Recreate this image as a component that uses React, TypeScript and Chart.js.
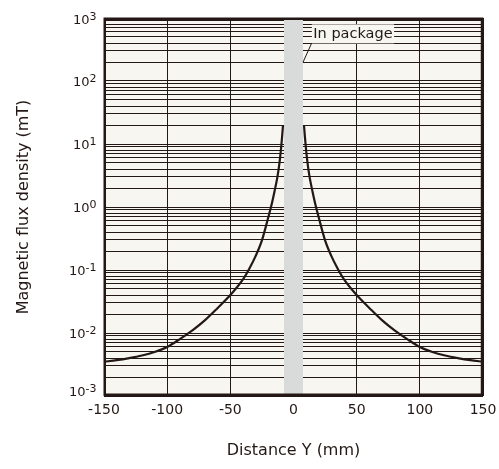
import React, { useEffect, useRef } from 'react';
import { Chart, registerables } from 'chart.js';

Chart.register(...registerables);

// ---- data ----
const distanceLeft = [-150, -140, -130, -120, -110, -100, -90, -80, -70, -60, -50, -40, -35, -30, -25, -20, -17, -15, -13, -12, -11, -10, -9, -8.3];
const fluxLeft = [0.0035, 0.0037, 0.004, 0.0044, 0.005, 0.006, 0.008, 0.011, 0.016, 0.025, 0.04, 0.071, 0.105, 0.166, 0.295, 0.68, 1.17, 1.78, 2.8, 3.7, 5.2, 7.9, 13.2, 20];
const distanceRight = [8.3, 9, 10, 11, 12, 13, 15, 17, 20, 25, 30, 35, 40, 50, 60, 70, 80, 90, 100, 110, 120, 130, 140, 150];
const fluxRight = [20, 13.2, 7.9, 5.2, 3.7, 2.8, 1.78, 1.17, 0.68, 0.295, 0.166, 0.105, 0.071, 0.04, 0.025, 0.016, 0.011, 0.008, 0.006, 0.005, 0.0044, 0.004, 0.0037, 0.0035];

const xTicks = [-150, -100, -50, 0, 50, 100, 150];
const xTickLabels = ['-150', '-100', '-50', '0', '50', '100', '150'];
const yDecades = [0.001, 0.01, 0.1, 1, 10, 100, 1000];
const yExponents = ['-3', '-2', '-1', '0', '1', '2', '3'];
const yMantissas = [1, 2, 3, 4, 5, 6, 7, 8, 9];
const packageBand = [-7.5, 7.5];
const annotationText = 'In package';
const xTitle = 'Distance Y (mm)';
const yTitle = 'Magnetic flux density (mT)';

const yGridValues: number[] = [];
yDecades.slice(0, -1).forEach((d) => yMantissas.forEach((m) => yGridValues.push(Number((m * d).toPrecision(6)))));
yGridValues.push(yDecades[yDecades.length - 1]);

const INK = '#231815';
const FONT = "'DejaVu Sans', Verdana, sans-serif";
const PLOT_BG = '#f7f6f0';
const BAND = '#d9dada';

const backgroundPlugin = {
  id: 'bgPlot',
  beforeDraw(chart: any) {
    const { ctx, chartArea: a } = chart;
    ctx.save();
    ctx.fillStyle = '#ffffff';
    ctx.fillRect(0, 0, chart.width, chart.height);
    ctx.fillStyle = PLOT_BG;
    ctx.fillRect(a.left, a.top, a.right - a.left, a.bottom - a.top);
    ctx.restore();
  },
};

const bandPlugin = {
  id: 'bandPkg',
  beforeDatasetsDraw(chart: any) {
    const { ctx, chartArea: a } = chart;
    const xs = chart.scales.x;
    const x0 = xs.getPixelForValue(packageBand[0]);
    const x1 = xs.getPixelForValue(packageBand[1]);
    ctx.save();
    ctx.fillStyle = BAND;
    ctx.fillRect(x0, a.top, x1 - x0, a.bottom - a.top);
    ctx.restore();
  },
};

const framePlugin = {
  id: 'frameAnno',
  afterDatasetsDraw(chart: any) {
    const { ctx, chartArea: a } = chart;
    const xs = chart.scales.x;
    const ys = chart.scales.y;
    ctx.save();
    // annotation label
    ctx.font = `14.5px ${FONT}`;
    const tw = ctx.measureText(annotationText).width;
    const lx = xs.getPixelForValue(14.5);
    const ly = ys.getPixelForValue(560);
    ctx.fillStyle = PLOT_BG;
    ctx.fillRect(lx, ly - 9.5, tw + 3, 19);
    ctx.fillStyle = INK;
    ctx.textAlign = 'left';
    ctx.textBaseline = 'middle';
    ctx.fillText(annotationText, lx + 1.5, ly);
    // leader line
    ctx.strokeStyle = INK;
    ctx.lineWidth = 1;
    ctx.beginPath();
    ctx.moveTo(xs.getPixelForValue(7.6), ys.getPixelForValue(200));
    ctx.lineTo(xs.getPixelForValue(14.3), ys.getPixelForValue(396));
    ctx.stroke();
    // frame
    ctx.lineWidth = 2.5;
    ctx.strokeRect(a.left + 0.75, a.top + 0.75, a.right - a.left - 1.75, a.bottom - a.top - 2);
    ctx.restore();
  },
};

const yLabelPlugin = {
  id: 'yLabels',
  afterDraw(chart: any) {
    const { ctx, chartArea: a } = chart;
    const ys = chart.scales.y;
    ctx.save();
    ctx.fillStyle = INK;
    ctx.textAlign = 'right';
    ctx.textBaseline = 'middle';
    const right = a.left - 7.5;
    yDecades.forEach((v, i) => {
      let cy = ys.getPixelForValue(v) + 1.5;
      cy = Math.min(Math.max(cy, a.top + 2.5), a.bottom - 3);
      ctx.font = `11px ${FONT}`;
      const ew = ctx.measureText(yExponents[i]).width;
      ctx.fillText(yExponents[i], right, cy - 3.5);
      ctx.font = `13px ${FONT}`;
      ctx.fillText('10', right - ew, cy);
    });
    ctx.restore();
  },
};

export default function App() {
  const ref = useRef<HTMLCanvasElement>(null);
  useEffect(() => {
    if (!ref.current) return;
    const chart = new Chart(ref.current, {
      type: 'line',
      data: {
        datasets: [
          {
            data: distanceLeft.map((x, i) => ({ x, y: fluxLeft[i] })),
            borderColor: INK,
            borderWidth: 2.2,
            pointRadius: 0,
            fill: false,
            cubicInterpolationMode: 'monotone',
          },
          {
            data: distanceRight.map((x, i) => ({ x, y: fluxRight[i] })),
            borderColor: INK,
            borderWidth: 2.2,
            pointRadius: 0,
            fill: false,
            cubicInterpolationMode: 'monotone',
          },
        ],
      },
      options: {
        responsive: false,
        animation: false,
        devicePixelRatio: 1,
        layout: { padding: { top: 18, right: 16, left: 0, bottom: 0 } },
        plugins: { legend: { display: false }, tooltip: { enabled: false } },
        scales: {
          x: {
            type: 'linear',
            min: -150,
            max: 150,
            afterBuildTicks: (s: any) => {
              s.ticks = xTicks.map((v) => ({ value: v }));
            },
            afterFit: (s: any) => {
              s.height = 73;
              s.paddingLeft = 0;
              s.paddingRight = 0;
            },
            grid: { color: INK, lineWidth: 1, drawTicks: false },
            border: { display: false },
            ticks: {
              autoSkip: false,
              maxRotation: 0,
              padding: 6,
              color: INK,
              font: { family: FONT, size: 14 },
              callback: (v: any) => xTickLabels[xTicks.indexOf(Number(v))],
            },
            title: {
              display: true,
              text: xTitle,
              color: INK,
              font: { family: FONT, size: 16 },
              padding: { top: 4, bottom: 9 },
            },
          },
          y: {
            type: 'logarithmic',
            min: 0.001,
            max: 1000,
            afterBuildTicks: (s: any) => {
              s.ticks = yGridValues.map((v) => ({ value: v }));
            },
            afterFit: (s: any) => {
              s.width = 104;
              s.paddingTop = 0;
              s.paddingBottom = 0;
            },
            grid: { color: INK, lineWidth: 1, drawTicks: false },
            border: { display: false },
            ticks: { display: false },
            title: {
              display: true,
              text: yTitle,
              color: INK,
              font: { family: FONT, size: 16 },
              padding: { top: 14, bottom: 0 },
            },
          },
        },
      },
      plugins: [backgroundPlugin, bandPlugin, framePlugin, yLabelPlugin],
    } as any);
    return () => chart.destroy();
  }, []);
  return (
    <div style={{ position: 'fixed', left: 0, top: 0, width: 499, height: 469, background: '#fff' }}>
      <canvas ref={ref} width={499} height={469} style={{ display: 'block' }} />
    </div>
  );
}
